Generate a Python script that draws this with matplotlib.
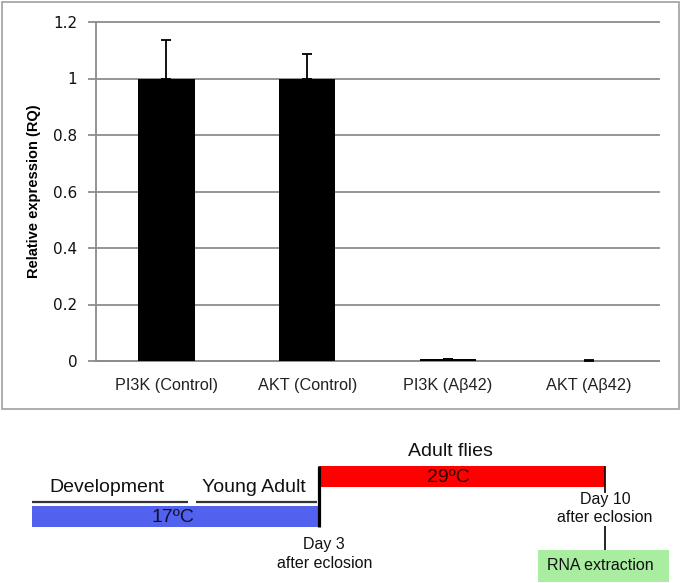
import matplotlib.pyplot as plt
from matplotlib.patches import Rectangle

W, H = 683, 583

# bar chart data
groups = ['PI3K (Control)', 'AKT (Control)', 'PI3K (Aβ42)', 'AKT (Aβ42)']
rq = [1.0, 1.0, 0.007, 0.001]
rq_err = [0.136, 0.087, 0.0, 0.004]
yticks = [0, 0.2, 0.4, 0.6, 0.8, 1, 1.2]
ytick_labels = ['0', '0.2', '0.4', '0.6', '0.8', '1', '1.2']

# timeline, schematic positions: 0 = start, 1 = day 3, 2 = day 10
phase_start = [0, 1]
phase_end = [1, 2]
phase_temp = ['17ºC', '29ºC']
phase_color = ['#5262ee', '#ff0000']
stage_names = ['Development', 'Young Adult']
stage_start = [0, 0.573]
stage_end = [0.545, 0.995]

plt.rcParams['font.family'] = ['Liberation Sans', 'DejaVu Sans']

fig = plt.figure(figsize=(W / 100, H / 100), dpi=100)

# gray frame around the bar chart
fig.patches.append(Rectangle((2 / W, 1 - 409 / H), 677 / W, 407 / H,
                             transform=fig.transFigure, fill=False,
                             edgecolor='#a0a0a0', lw=1.2))

#bar chart
ax = fig.add_axes([96 / W, 1 - 361 / H, 563 / W, 339 / H])
x = range(len(groups))
ax.bar(x, rq, 0.40, color='black', zorder=3,
       yerr=[[0] * len(rq), rq_err], capsize=3.3,
       error_kw=dict(ecolor='black', elinewidth=1.3, capthick=1.3, zorder=4))
ax.set_xlim(-0.5, 3.5)
ax.set_ylim(0, 1.2)
ax.set_yticks(yticks)
ax.set_yticklabels(ytick_labels, family='DejaVu Sans', fontsize=11, color='#111111')
ax.set_xticks(list(x))
ax.set_xticklabels(groups, fontsize=11.7, color='#222222')
ax.tick_params(axis='x', length=0, pad=12)
ax.tick_params(axis='y', length=6, width=1.3, color='#8c8c8c', pad=7.5)
ax.yaxis.grid(True, color='#8c8c8c', lw=1.3, clip_on=False)
ax.set_axisbelow(True)
for s in ['top', 'right']:
    ax.spines[s].set_visible(False)
for s in ['left', 'bottom']:
    ax.spines[s].set_color('#8c8c8c')
    ax.spines[s].set_linewidth(1.3)
ax.set_ylabel('Relative expression (RQ)', fontsize=10.5, fontweight='bold')
ax.yaxis.set_label_coords(-0.098, 0.5)

# timeline below
unit = 286.5
tl = fig.add_axes([0, 0, 1, 143 / H])
tl.set_xlim(-32 / unit, (W - 32) / unit)
tl.set_ylim(583, 440)
tl.axis('off')

tl.barh(516.5, phase_end[0] - phase_start[0], left=phase_start[0], height=21,
        color=phase_color[0])
tl.barh(476.5, phase_end[1] - phase_start[1], left=phase_start[1], height=21,
        color=phase_color[1])
tl.text(0.492, 517, phase_temp[0], fontsize=14, color='#101030', ha='center', va='center')
tl.text(1.452, 477, phase_temp[1], fontsize=14, color='#300000', ha='center', va='center')

for name, a, b in zip(stage_names, stage_start, stage_end):
    tl.plot([a, b], [502, 502], color='#333333', lw=1.6, solid_capstyle='butt')
    tl.text((a + b) / 2 - 0.01, 487, name, fontsize=14, color='#111111',
            ha='center', va='center')

tl.text(1.459, 452, 'Adult flies', fontsize=14, color='#111111', ha='center', va='center')

# day 3 marker
tl.plot([1, 1], [466, 527], color='black', lw=2.3, solid_capstyle='butt')
tl.text(1.02, 554, 'Day 3\nafter eclosion', fontsize=11.5, color='#111111',
        ha='center', va='center', linespacing=1.3)

# day 10 marker and RNA extraction
tl.plot([2, 2], [466, 493], color='black', lw=1.2, solid_capstyle='butt')
tl.plot([2, 2], [526, 550], color='black', lw=1.2, solid_capstyle='butt')
tl.text(2.0, 508.5, 'Day 10\nafter eclosion', fontsize=11.5, color='#111111',
        ha='center', va='center', linespacing=1.3)
tl.barh(566, 0.457, left=1.766, height=32, color='#a9eea0')
tl.text(1.983, 566, 'RNA extraction', fontsize=11.5, color='#111111',
        ha='center', va='center')

fig.savefig('out.png', dpi=100)
